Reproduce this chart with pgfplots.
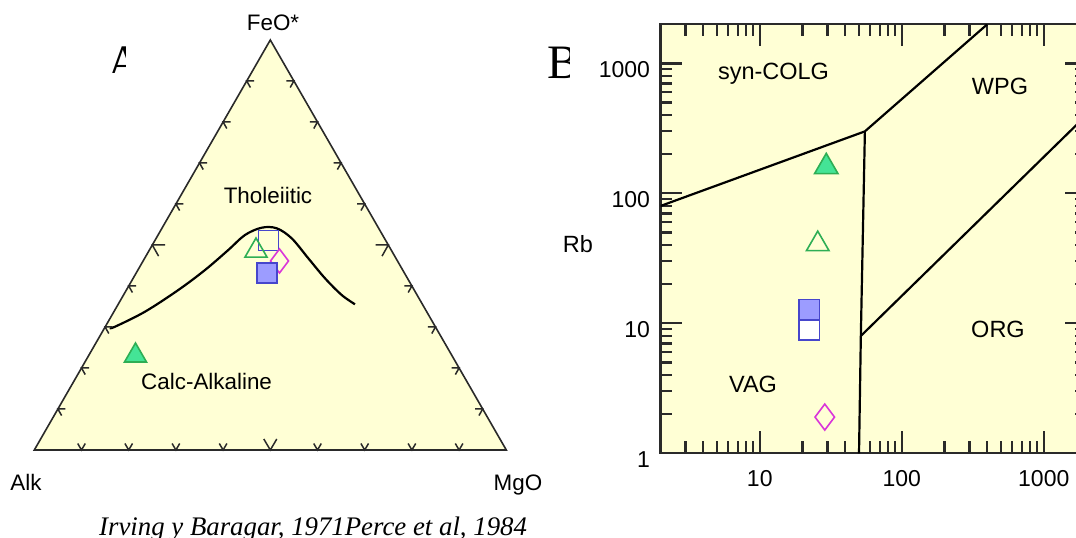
\documentclass[border=0pt]{standalone}
\usepackage{pgfplots}
\pgfplotsset{compat=1.18}
\usepackage{fontspec}
\setmainfont{Liberation Sans}
\newfontfamily\timesfont{Liberation Serif}
\definecolor{bg}{HTML}{FFFFD5}
\definecolor{edge}{HTML}{2A2A2A}
\definecolor{sqblue}{HTML}{4646CC}
\definecolor{sqfill}{HTML}{9C9CFF}
\definecolor{trigreen}{HTML}{2EAE55}
\definecolor{trifill}{HTML}{44E496}
\definecolor{dmag}{HTML}{D935D9}

% chevron ticks of the ternary frame
\pgfdeclareplotmark{chev}{%
  \pgfpathmoveto{\pgfqpoint{-3.8pt}{6.5pt}}%
  \pgfpathlineto{\pgfqpoint{0pt}{0pt}}%
  \pgfpathlineto{\pgfqpoint{3.8pt}{6.5pt}}%
  \pgfusepathqstroke}
\pgfdeclareplotmark{chevbig}{%
  \pgfpathmoveto{\pgfqpoint{-6.5pt}{11pt}}%
  \pgfpathlineto{\pgfqpoint{0pt}{0pt}}%
  \pgfpathlineto{\pgfqpoint{6.5pt}{11pt}}%
  \pgfusepathqstroke}

\begin{document}
\begin{tikzpicture}
\useasboundingbox (0pt,0pt) rectangle (1076pt,538pt);

% ---- A: AFM ternary (Irvine & Baragar)
\begin{axis}[at={(34.3pt,88pt)}, anchor=south west, scale only axis,
  width=472pt, height=410pt, xmin=0, xmax=1, ymin=0, ymax=1,
  hide axis, clip=false]
\addplot[fill=bg, draw=edge, line width=1.6pt] coordinates {(0,0) (1,0) (0.5,1)} -- cycle;
% frame ticks
\addplot[only marks, mark=chev, edge, line width=1.5pt] coordinates {(0.1,0)(0.2,0)(0.3,0)(0.4,0)(0.6,0)(0.7,0)(0.8,0)(0.9,0)};
\addplot[only marks, mark=chevbig, edge, line width=1.5pt] coordinates {(0.5,0)};
\addplot[only marks, mark=chev, edge, line width=1.5pt, mark options={rotate=-120}] coordinates {(0.05,0.1)(0.1,0.2)(0.15,0.3)(0.2,0.4)(0.3,0.6)(0.35,0.7)(0.4,0.8)(0.45,0.9)};
\addplot[only marks, mark=chevbig, edge, line width=1.5pt, mark options={rotate=-120}] coordinates {(0.25,0.5)};
\addplot[only marks, mark=chev, edge, line width=1.5pt, mark options={rotate=120}] coordinates {(0.95,0.1)(0.9,0.2)(0.85,0.3)(0.8,0.4)(0.7,0.6)(0.65,0.7)(0.6,0.8)(0.55,0.9)};
\addplot[only marks, mark=chevbig, edge, line width=1.5pt, mark options={rotate=120}] coordinates {(0.75,0.5)};
% boundary curve
\addplot[black, line width=2.2pt, smooth, tension=0.55] coordinates {
  (0.1604,0.2976) (0.1710,0.3007) (0.2345,0.3373) (0.3051,0.3902)
  (0.3617,0.4390) (0.4110,0.4878) (0.4464,0.5244) (0.4818,0.5422)
  (0.5136,0.5407) (0.5453,0.5163) (0.5805,0.4676) (0.6159,0.4188)
  (0.6513,0.3780) (0.6794,0.3554)};
% samples
\addplot[only marks, mark=square, mark size=10pt, sqblue, line width=1.6pt] coordinates {(0.4964,0.511)};
\addplot[only marks, mark=triangle, mark size=12.7pt, trigreen, line width=1.6pt] coordinates {(0.4697,0.486)};
\addplot[only marks, mark=diamond, mark size=12pt, dmag, line width=1.6pt] coordinates {(0.5195,0.461)};
\addplot[only marks, mark=square*, mark size=10pt, draw=sqblue, fill=sqfill, line width=1.6pt] coordinates {(0.493,0.432)};
\addplot[only marks, mark=triangle*, mark size=12.7pt, draw=trigreen, fill=trifill, line width=1.6pt] coordinates {(0.2144,0.230)};
\end{axis}

\begin{scope}[font=\fontsize{22.4}{26}\selectfont]
\node[anchor=base, inner sep=0] at (273pt,507.3pt) {FeO*};
\node[anchor=base, inner sep=0] at (268pt,334pt) {Tholeiitic};
\node[anchor=base, inner sep=0] at (206.6pt,148pt) {Calc-Alkaline};
\node[anchor=base, inner sep=0] at (26pt,47pt) {Alk};
\node[anchor=base, inner sep=0] at (518pt,47pt) {MgO};
\end{scope}

% ---- B: Rb vs Y+Nb (Pearce et al.)
\begin{axis}[at={(660.5pt,84.7pt)}, anchor=south west, scale only axis,
  width=426pt, height=429pt,
  xmode=log, ymode=log, xmin=2, xmax=2000, ymin=1, ymax=2000,
  log ticks with fixed point,
  /pgf/number format/1000 sep={},
  /pgf/number format/assume math mode=true,
  xtick={10,100,1000}, ytick={1,10,100,1000},
  minor xtick={3,4,5,6,7,8,9,20,30,40,50,60,70,80,90,200,300,400,500,600,700,800,900},
  minor ytick={2,3,4,5,6,7,8,9,20,30,40,50,60,70,80,90,200,300,400,500,600,700,800,900},
  axis background/.style={fill=bg},
  axis line style={line width=2.2pt, draw=edge},
  every major tick/.append style={line width=2.2pt, color=edge},
  every minor tick/.append style={line width=2.2pt, color=edge},
  major tick length=22pt, minor tick length=12pt,
  tick label style={font=\fontsize{23}{26}\selectfont},
  xticklabel style={yshift=-14pt},
  yticklabel style={yshift=-6.5pt, xshift=-7pt}]
\addplot[black, line width=2.2pt] coordinates {(2,80) (55,300) (400,2000)};
\addplot[black, line width=2.2pt] coordinates {(55,300) (51.5,8) (50,1)};
\addplot[black, line width=2.2pt] coordinates {(51.5,8) (2000,400)};
\addplot[only marks, mark=triangle*, mark size=13.5pt, draw=trigreen, fill=trifill, line width=1.6pt] coordinates {(29.4,160)};
\addplot[only marks, mark=triangle, mark size=13pt, trigreen, line width=1.6pt] coordinates {(25.6,40.7)};
\addplot[only marks, mark=square*, mark size=10.3pt, draw=sqblue, fill=white, line width=1.6pt] coordinates {(22.3,8.9)};
\addplot[only marks, mark=square*, mark size=10.3pt, draw=sqblue, fill=sqfill, line width=1.6pt] coordinates {(22.3,12.7)};
\addplot[only marks, mark=diamond, mark size=13pt, dmag, line width=1.6pt] coordinates {(28.7,1.9)};
\end{axis}

\begin{scope}[font=\fontsize{23.5}{26}\selectfont]
\node[anchor=base, inner sep=0] at (773.5pt,458pt) {syn-COLG};
\node[anchor=base, inner sep=0] at (1000pt,443pt) {WPG};
\node[anchor=base, inner sep=0] at (998pt,200pt) {ORG};
\node[anchor=base, inner sep=0] at (753pt,145pt) {VAG};
\node[anchor=base, inner sep=0] at (578pt,285pt) {Rb};
\end{scope}

% panel letters, cut off as in the source
\begin{scope}
\clip (100pt,465pt) rectangle (125pt,500pt);
\node[anchor=base west, inner sep=0, font=\timesfont\fontsize{48}{50}\selectfont] at (107.5pt,459pt) {A};
\end{scope}
\begin{scope}
\clip (540pt,440pt) rectangle (569pt,500pt);
\node[anchor=base west, inner sep=0, font=\timesfont\fontsize{48}{50}\selectfont] at (547pt,459pt) {B};
\end{scope}

\node[anchor=base west, inner sep=0, font=\timesfont\itshape\fontsize{26.8}{30}\selectfont] at (99pt,2.5pt) {Irving y Baragar, 1971Perce et al, 1984};
\end{tikzpicture}
\end{document}
